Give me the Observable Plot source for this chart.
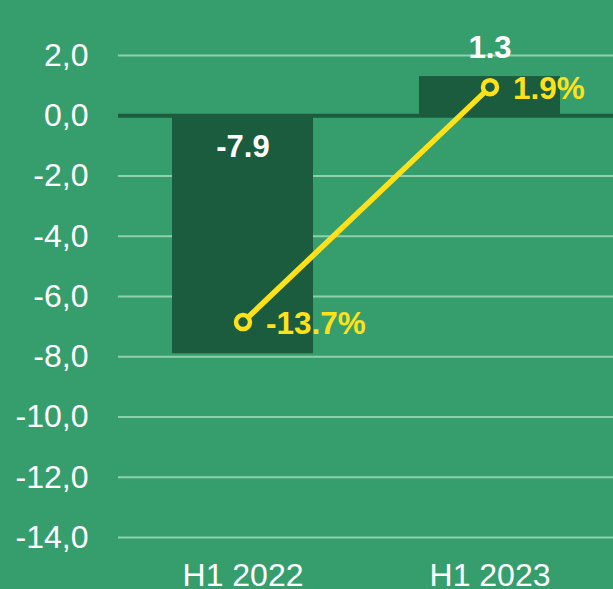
<!DOCTYPE html>
<html>
<head>
<meta charset="utf-8">
<script src="https://cdn.jsdelivr.net/npm/d3@7"></script>
<script src="https://cdn.jsdelivr.net/npm/@observablehq/plot@0.6"></script>
<style>
  html, body { margin: 0; padding: 0; background: #369e6d; overflow: hidden; }
  #chart svg { display: block; }
</style>
</head>
<body>
<div id="chart"></div>
<script>
const categories = ["H1 2022", "H1 2023"];
const barValues = [-7.9, 1.3];
const pctValues = [-13.7, 1.9];
const yTicks = [2, 0, -2, -4, -6, -8, -10, -12, -14];

const bg = "#369e6d";
const barColor = "#1b5c3e";
const gridColor = "#8fd0ab";
const yellow = "#ffe11a";
const font = "Liberation Sans, Arial, sans-serif";

const rows = categories.map((c, i) => ({ cat: c, val: barValues[i], pct: pctValues[i] }));
// secondary axis: percentages plotted at half scale on the primary axis
const pctY = d => d.pct / 2;

const chart = Plot.plot({
  width: 613,
  height: 589,
  marginLeft: 118,
  marginRight: 0,
  marginTop: 55,
  marginBottom: 52,
  style: { background: bg, fontFamily: font, color: "white", overflow: "visible" },
  x: { domain: categories, paddingInner: 0.43, paddingOuter: 0.215, label: null },
  y: { domain: [-14, 2], label: null },
  marks: [
    Plot.ruleY(yTicks.filter(t => t !== 0), { stroke: gridColor, strokeWidth: 2 }),
    Plot.barY(rows, { x: "cat", y: "val", fill: barColor }),
    Plot.ruleY([0], { stroke: barColor, strokeWidth: 4 }),
    Plot.axisY({
      ticks: yTicks, tickSize: 0, tickPadding: 30,
      tickFormat: d => d.toFixed(1).replace(".", ","),
      fontSize: 32, fill: "white", label: null
    }),
    Plot.axisX({ tickSize: 0, tickPadding: 26, fontSize: 32, fill: "white", label: null }),
    Plot.text(rows, {
      x: "cat", y: () => 0,
      text: d => d.val.toFixed(1),
      filter: d => d.val < 0, dy: 31,
      fill: "white", fontSize: 31, fontWeight: "bold"
    }),
    Plot.text(rows, {
      x: "cat", y: "val",
      text: d => d.val.toFixed(1),
      filter: d => d.val >= 0, dy: -29,
      fill: "white", fontSize: 31, fontWeight: "bold"
    }),
    Plot.line(rows, { x: "cat", y: pctY, stroke: yellow, strokeWidth: 5.5 }),
    Plot.dot(rows, { x: "cat", y: pctY, r: 7, stroke: yellow, strokeWidth: 4.5, fill: barColor }),
    Plot.text(rows, {
      x: "cat", y: pctY,
      text: d => d.pct.toFixed(1) + "%",
      textAnchor: "start", dx: 23, dy: 2,
      fill: yellow, fontSize: 31.5, fontWeight: "bold"
    })
  ]
});
document.getElementById("chart").appendChild(chart);
</script>
</body>
</html>
